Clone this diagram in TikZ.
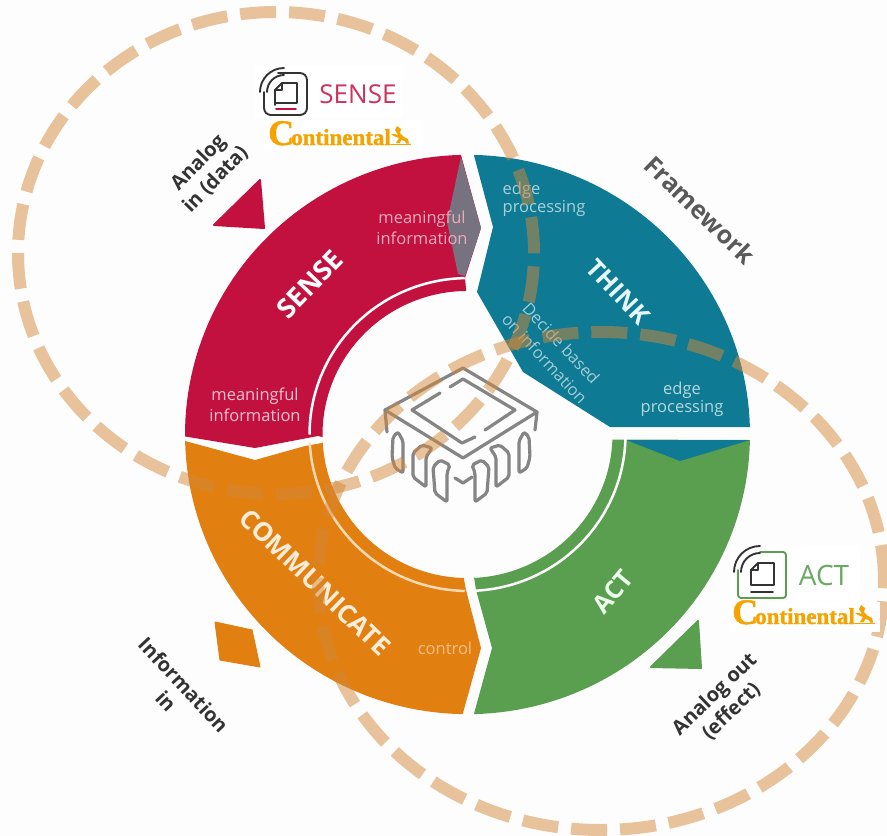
\documentclass[tikz,border=0pt]{standalone}
\usepackage{fontspec}
\setmainfont{Open Sans}
\newfontfamily\contifont{Liberation Serif Bold}[FakeBold=1.2]
\definecolor{ringred}{HTML}{C2103F}
\definecolor{ringgray}{HTML}{77727F}
\definecolor{ringteal}{HTML}{0E7A93}
\definecolor{ringgreen}{HTML}{5A9E50}
\definecolor{ringorange}{HTML}{E17F10}
\definecolor{dashtan}{RGB}{212,136,56}
\definecolor{contiorange}{HTML}{F5A300}
\definecolor{chipgray}{HTML}{858585}
\definecolor{paper}{HTML}{FDFDFE}
\tikzset{
  declare function={px(\r,\a)=467.5+\r*cos(\a); py(\r,\a)=434.5-0.99*\r*sin(\a);},
  segment/.style={line join=round,line width=0.5pt},
  innerline/.style={draw=white,line width=2.5pt},
  dashring/.style={draw=dashtan,opacity=0.5,line width=12pt,dash pattern=on 36pt off 13pt},
  bandlabel/.style={font=\fontsize{#1}{#1}\selectfont\bfseries,text=white},
  smalllabel/.style={font=\fontsize{16.5}{18.5}\selectfont,align=center,inner sep=0pt},
  sidelabel/.style={font=\fontsize{20}{24}\selectfont\bfseries,text=black!80,align=center,inner sep=0pt},
  chipline/.style={draw=chipgray,line width=3.2pt,line join=round,line cap=round,fill=none},
  iconline/.style={line width=1.9pt,line cap=round,line join=round,fill=none},
  contitext/.style={inner sep=0pt,anchor=base west,text=contiorange,font=\contifont\fontsize{23}{23}\selectfont},
}
\newcommand\contilogo[3]{% x, y baseline, name
  \node[contitext] (#3) at (#1,#2) {{\fontsize{36}{36}\selectfont C}\kern-3pt ontinental};
  \begin{scope}[shift={(#1,#2)}]
    \fill[contiorange] (123,0) rectangle (143,-1);
    \fill[contiorange] (128,-2) -- (131,-7) -- (126,-9) -- (123,-11) -- (127,-11) -- (130,-10) -- (127,-15) -- (129,-19) -- (133,-16) -- (132,-12) -- (136,-8) -- (140,-6) -- (141,-1.5) -- (138,-1.5) -- (137,-4) -- (133,-5) -- (132,-2) -- cycle;
  \end{scope}
}
\begin{document}
\begin{tikzpicture}[x=1pt,y=-1pt]
\useasboundingbox (0,0) rectangle (887,836);
\fill[paper] (0,0) rectangle (887,836);

% ring segments
\fill[ringred,segment] (461,155) -- plot[domain=91.2:180.4,samples=50] ({px(282.5,\x)},{py(282.5,\x)}) -- (255,448) -- (318,436) -- plot[domain=181:90.5,samples=50] ({px(145,\x)},{py(145,\x)}) -- (465,278) -- (481,228) -- cycle;
\fill[ringgray] (461,157) -- (447,222) -- (458,274) -- (465,276) -- (481,228) -- cycle;
\fill[ringteal,segment] (474,155.5) -- plot[domain=88.6:1.5,samples=50] ({px(282.5,\x)},{py(282.5,\x)}) -- (610,427) -- (523,372) -- (477,292) -- (493,227) -- cycle;
\fill[ringgreen,segment] (750,440) -- plot[domain=-1:-88.7,samples=50] ({px(282.5,\x)},{py(282.5,\x)}) -- (492,648) -- (476,590) -- (474,577) -- plot[domain=-87.5:-2,samples=50] ({px(145,\x)},{py(145,\x)}) -- cycle;
\fill[ringteal] (626,440) -- (680,461) -- (750,440) -- cycle;
\fill[ringorange,segment] (185,441) -- (255,460) -- (305,446) -- (322,443) -- plot[domain=183:268.5,samples=50] ({px(145,\x)},{py(145,\x)}) -- (466,590) -- (481,648) -- (463,713) -- plot[domain=269:181,samples=50] ({px(282.5,\x)},{py(282.5,\x)}) -- cycle;

% thin lines inside the ring
\draw[innerline] plot[domain=91:180,samples=50] ({px(158,\x)},{py(158,\x)});
\draw[innerline] plot[domain=-1:-87,samples=50] ({px(158,\x)},{py(158,\x)});
\draw[draw=orange!30!white,line width=2.5pt] plot[domain=183:269,samples=50] ({px(158,\x)},{py(158,\x)});

% outside markers
\fill[ringred,draw=ringred,line width=2pt,line join=round] (260,180) -- (264,228) -- (214,225) -- cycle;
\fill[ringgreen,draw=ringgreen,line width=2pt,line join=round] (698,621) -- (701,668) -- (651,667) -- cycle;
\fill[ringorange,draw=ringorange,line width=1pt,line join=round] (215,622) -- (252,630) -- (260,667) -- (220,660) -- cycle;

% chip icon
\draw[chipline] (387,432) -- (385,410) -- (463,368) -- (537,412) -- (535,430);
\draw[chipline] (385,410) -- (463,458) -- (537,412);
\draw[chipline] (440,393) -- (412,410) -- (462,443) -- (475,437);
\draw[chipline] (450,387) -- (463,379) -- (515,410) -- (485,430);
\draw[chipline,rounded corners=2pt] (393,437) -- (392,457) -- (395,468) -- (403,473) -- (403,441) -- (398,432) -- cycle;
\draw[chipline,rounded corners=2pt] (413,453) -- (413,477) -- (426,487) -- (426,457) -- (432,448) -- (422,445) -- cycle;
\draw[chipline,rounded corners=2pt] (433,467) -- (435,493) -- (447,502) -- (447,473) -- (450,465) -- (440,460) -- cycle;
\draw[chipline] (455,478) -- (463,483) -- (472,477);
\draw[chipline,rounded corners=2pt] (529,437) -- (530,457) -- (527,468) -- (519,473) -- (519,441) -- (524,432) -- cycle;
\draw[chipline,rounded corners=2pt] (509,453) -- (509,477) -- (496,487) -- (496,457) -- (490,448) -- (500,445) -- cycle;
\draw[chipline,rounded corners=2pt] (489,467) -- (487,493) -- (475,502) -- (475,473) -- (472,465) -- (482,460) -- cycle;

% ring labels
\node[bandlabel=27,rotate=46] (sense) at (310,284) {SENSE};
\node[bandlabel=25,rotate=-47,text=white!90!cyan] (think) at (618,292) {THINK};
\node[bandlabel=26,rotate=-44,text=white!85!orange] (comm) at (315,582) {COMMUNICATE};
\node[bandlabel=25,rotate=50,text=white!92!green] (act) at (613,592) {ACT};
\node[smalllabel,text=white!65!ringred] (mi1) at (422,228) {meaningful\\[2pt]information};
\node[smalllabel,text=white!75!ringred] (mi2) at (255,405) {meaningful\\[2pt]information};
\node[smalllabel,text=white!65!ringteal,align=left] (ep1) at (544,199) {edge\\processing};
\node[smalllabel,text=white!70!ringteal] (ep2) at (682,399) {edge\\processing};
\node[smalllabel,text=white!62!ringteal,rotate=-47] (dec) at (553,351) {Decide based\\[4pt]on information};
\node[smalllabel,text=white!50!ringorange] (ctl) at (445,648) {control};

% outside labels
\node[sidelabel,rotate=46] (ain) at (207,171) {Analog\\in (data)};
\node[sidelabel,rotate=-44,text=black!65,font=\fontsize{25}{27}\selectfont\bfseries] (fw) at (700,210) {Framework};
\node[sidelabel,rotate=-47] (iin) at (175,693) {Information\\in};
\node[sidelabel,rotate=44] (aout) at (723,703) {Analog out\\(effect)};

% dashed outlines
\draw[dashring] (276,253) ellipse [x radius=258pt,y radius=241pt];
\draw[dashring] (601,581) ellipse [x radius=283pt,y radius=249pt];

% SENSE logo
\fill[white] (255,65) rectangle (403,117);
\fill[white] (264,120) rectangle (423,151);
\draw[iconline,draw=black!80,rounded corners=3pt] (278,73) -- (303,73) -- (307,77) -- (307,111) -- (303,115) -- (268,115) -- (264,111) -- (264,92);
\draw[iconline,draw=black!80] (260,92) arc[start angle=180,end angle=90,radius=24pt];
\draw[iconline,draw=black!80] (267,92) arc[start angle=180,end angle=90,radius=17pt];
\draw[iconline,draw=black!80] (275,105) -- (275,90) -- (282,83) -- (297,83) -- (297,103) -- (275,103);
\draw[iconline,draw=black!80] (282,83) -- (282,90) -- (275,90);
\draw[iconline,draw=ringred] (276,109) -- (296,109);
\node[font=\fontsize{26}{26}\selectfont,text=ringred!85!white,inner sep=0pt] (senselogo) at (358,94) {SENSE};
\contilogo{268}{145}{contisense}

% ACT logo
\fill[white] (730,545) rectangle (860,601);
\fill[white] (730,602) rectangle (880,632);
\draw[iconline,draw=ringgreen,rounded corners=3pt] (738,570) -- (738,598) -- (786,598) -- (786,552) -- (760,552);
\draw[iconline,draw=black!80] (734,572) arc[start angle=180,end angle=90,radius=26pt];
\draw[iconline,draw=black!80] (741,572) arc[start angle=180,end angle=90,radius=19pt];
\draw[iconline,draw=black!80] (751,585) -- (751,570) -- (758,563) -- (774,563) -- (774,585) -- cycle;
\draw[iconline,draw=black!80] (758,563) -- (758,570) -- (751,570);
\draw[iconline,draw=black!80] (751,592) -- (773,592);
\node[font=\fontsize{28}{28}\selectfont,text=ringgreen!90!white,inner sep=0pt] (actlogo) at (824,575) {ACT};
\contilogo{732}{624}{contiact}
\end{tikzpicture}
\end{document}
